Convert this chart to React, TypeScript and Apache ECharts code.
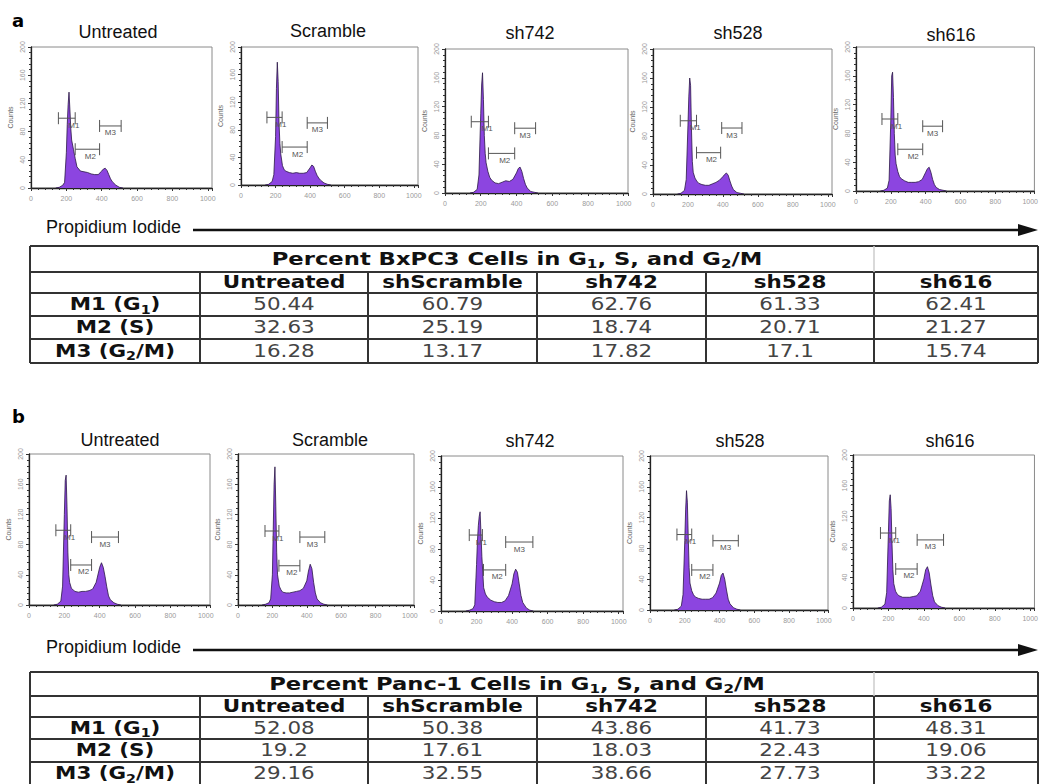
import React, { useEffect, useRef } from 'react';
import * as echarts from 'echarts';

// ---------- DATA ----------
const panelNames = ['Untreated', 'Scramble', 'sh742', 'sh528', 'sh616'];
const channelBins = [140, 160, 180, 190, 200, 205, 210, 215, 220, 225, 230, 240, 250, 260, 280, 300, 320, 340, 360, 380, 400, 410, 420, 430, 440, 450, 460, 480, 500, 520];

// BxPC3 (panel a) histogram counts
const bxUntreated = [0, 1, 4, 8, 50, 90, 118, 136, 112, 85, 68, 55, 42, 30, 24, 23, 22, 20, 19, 19, 24, 27, 28, 25, 19, 13, 9, 4, 1, 0];
const bxScramble = [0, 1, 5, 15, 70, 140, 178, 150, 90, 60, 45, 28, 22, 20, 18, 17, 18, 17, 17, 18, 25, 29, 27, 20, 14, 10, 7, 3, 1, 0];
const bxSh742 = [0, 1, 5, 25, 110, 150, 167, 130, 80, 55, 42, 30, 22, 18, 14, 13, 15, 17, 16, 19, 28, 34, 36, 30, 20, 12, 7, 2, 1, 0];
const bxSh528 = [0, 1, 5, 20, 95, 135, 160, 150, 90, 45, 30, 22, 18, 15, 13, 12, 12, 14, 16, 19, 24, 27, 29, 26, 18, 11, 6, 2, 1, 0];
const bxSh616 = [0, 1, 4, 15, 100, 160, 165, 130, 80, 50, 38, 27, 20, 17, 14, 12, 12, 12, 13, 16, 26, 31, 33, 26, 16, 9, 5, 2, 1, 0];

// Panc-1 (panel b) histogram counts
const paUntreated = [0, 1, 5, 25, 120, 165, 172, 130, 70, 40, 30, 22, 20, 18, 17, 18, 18, 19, 21, 30, 50, 56, 50, 38, 24, 12, 7, 3, 1, 0];
const paScramble = [0, 1, 3, 8, 40, 100, 160, 183, 130, 70, 40, 25, 20, 17, 16, 16, 17, 18, 19, 22, 32, 45, 54, 48, 30, 16, 8, 3, 1, 0];
const paSh742 = [0, 1, 3, 8, 60, 90, 110, 122, 128, 100, 70, 30, 22, 18, 14, 12, 11, 11, 13, 20, 35, 48, 54, 50, 35, 20, 11, 4, 1, 0];
const paSh528 = [0, 1, 5, 20, 90, 130, 155, 140, 95, 55, 35, 25, 20, 17, 15, 14, 14, 14, 16, 22, 35, 45, 48, 40, 26, 14, 8, 3, 1, 0];
const paSh616 = [0, 1, 5, 20, 100, 140, 148, 130, 85, 50, 32, 22, 18, 16, 14, 14, 14, 15, 16, 22, 38, 50, 54, 46, 30, 16, 8, 3, 1, 0];

// Marker gates [start, end, level] for M1, M2, M3
const markerNames = ['M1', 'M2', 'M3'];
const bxUntreatedGates = [[155, 250, 99], [250, 388, 55], [388, 510, 88]];
const bxScrambleGates = [[150, 238, 98], [238, 383, 55], [383, 500, 90]];
const bxSh742Gates = [[147, 243, 99], [243, 390, 55], [390, 507, 90]];
const bxSh528Gates = [[156, 249, 101], [249, 387, 57], [393, 509, 91]];
const bxSh616Gates = [[149, 240, 100], [240, 383, 58], [383, 497, 90]];
const paUntreatedGates = [[152, 236, 99], [236, 354, 53], [354, 506, 90]];
const paScrambleGates = [[157, 238, 98], [238, 360, 52], [360, 505, 90]];
const paSh742Gates = [[159, 233, 98], [239, 364, 53], [364, 517, 89]];
const paSh528Gates = [[155, 240, 98], [240, 362, 52], [362, 508, 90]];
const paSh616Gates = [[155, 241, 98], [241, 362, 51], [362, 511, 89]];

const xTicks = [0, 200, 400, 600, 800, 1000];
const yTicks = [0, 40, 80, 120, 160, 200];

// Tables
const tableColumns = ['Untreated', 'shScramble', 'sh742', 'sh528', 'sh616'];
const phaseLabels = ['M1 (G1)', 'M2 (S)', 'M3 (G2/M)'];
const bxpc3Title = 'Percent BxPC3 Cells in G1, S, and G2/M';
const bxpc3G1 = [50.44, 60.79, 62.76, 61.33, 62.41];
const bxpc3S = [32.63, 25.19, 18.74, 20.71, 21.27];
const bxpc3G2M = [16.28, 13.17, 17.82, 17.1, 15.74];
const panc1Title = 'Percent Panc-1 Cells in G1, S, and G2/M';
const panc1G1 = [52.08, 50.38, 43.86, 41.73, 48.31];
const panc1S = [19.2, 17.61, 18.03, 22.43, 19.06];
const panc1G2M = [29.16, 32.55, 38.66, 27.73, 33.22];

// ---------- LAYOUT ----------
const histograms = [bxUntreated, bxScramble, bxSh742, bxSh528, bxSh616, paUntreated, paScramble, paSh742, paSh528, paSh616];
const gates = [bxUntreatedGates, bxScrambleGates, bxSh742Gates, bxSh528Gates, bxSh616Gates, paUntreatedGates, paScrambleGates, paSh742Gates, paSh528Gates, paSh616Gates];
// [left, top, right, bottom]
const panelBoxes = [
  [31, 47, 212, 188], [241, 47, 418, 185], [445, 49, 628, 193], [653, 49, 832, 194], [856, 47, 1037, 191],
  [29, 454, 210, 605], [238, 454, 414, 605], [441, 456, 623, 611], [650, 456, 828, 610], [853, 455, 1036, 608],
];
const titleCenters = [
  [118, 32], [328, 31], [530, 33], [738, 33], [951, 35],
  [120, 440], [330, 440], [530, 441], [740, 441], [950, 441],
];
const colEdges = [30, 200, 368, 537, 706, 874, 1038];
const tableARows = [246, 272, 293, 316, 339, 363];
const tableBRows = [672, 696, 717, 739, 762, 785];

const FONT_T = 'DejaVu Sans';
const FONT_L = 'Liberation Sans';

function toRich(str: string, base: string) {
  return '{' + base + '|' + str.replace(/G(\d)/g, 'G}{s|$1}{' + base + '|') + '}';
}

function richStyles(color: string, weight: string) {
  return {
    b: { fontFamily: FONT_T, fontWeight: weight, fontSize: 18, lineHeight: 18, verticalAlign: 'top', fill: color },
    s: { fontFamily: FONT_T, fontWeight: weight, fontSize: 12, lineHeight: 12, padding: [8, 0, 0, 0], verticalAlign: 'top', fill: color },
  };
}

function cellText(x: number, y: number, str: string, bold: boolean, color: string, sx = 1.19) {
  return {
    type: 'text', x, y, scaleX: sx, silent: true,
    style: {
      text: toRich(str, 'b'), rich: richStyles(color, bold ? 'bold' : 'normal'),
      textAlign: 'center', textVerticalAlign: 'middle',
    },
  };
}

function buildTable(rows: number[], title: string, values: number[][]) {
  const els: any[] = [];
  const dark = '#333';
  const x0 = colEdges[0];
  const x1 = colEdges[colEdges.length - 1];
  rows.forEach((y) => {
    els.push({ type: 'line', silent: true, shape: { x1: x0, y1: y, x2: x1, y2: y }, style: { stroke: dark, lineWidth: 2 } });
  });
  const yTop = rows[0];
  const yHead = rows[1];
  const yEnd = rows[rows.length - 1];
  els.push({ type: 'line', silent: true, shape: { x1: x0, y1: yTop, x2: x0, y2: yEnd }, style: { stroke: dark, lineWidth: 2 } });
  els.push({ type: 'line', silent: true, shape: { x1: x1, y1: yTop, x2: x1, y2: yEnd }, style: { stroke: dark, lineWidth: 2 } });
  els.push({ type: 'line', silent: true, shape: { x1: colEdges[5], y1: yTop, x2: colEdges[5], y2: yHead }, style: { stroke: '#ccc', lineWidth: 1.5 } });
  for (let c = 1; c < colEdges.length - 1; c++) {
    els.push({ type: 'line', silent: true, shape: { x1: colEdges[c], y1: yHead, x2: colEdges[c], y2: yEnd }, style: { stroke: dark, lineWidth: 2 } });
  }
  const mid = (r: number) => (rows[r] + rows[r + 1]) / 2;
  els.push(cellText(517, mid(0), title, true, '#111', 1.26));
  tableColumns.forEach((name, c) => {
    els.push(cellText((colEdges[c + 1] + colEdges[c + 2]) / 2, mid(1), name, true, '#111'));
  });
  phaseLabels.forEach((lab, r) => {
    els.push(cellText((colEdges[0] + colEdges[1]) / 2, mid(r + 2), lab, true, '#111'));
    values[r].forEach((v, c) => {
      els.push(cellText((colEdges[c + 1] + colEdges[c + 2]) / 2, mid(r + 2), String(v), false, '#444'));
    });
  });
  return els;
}

function arrowEls(y: number, textY: number) {
  return [
    { type: 'text', x: 46, y: textY, silent: true, style: { text: 'Propidium Iodide', fontFamily: FONT_L, fontSize: 18, fill: '#111', textAlign: 'left', textVerticalAlign: 'middle' } },
    { type: 'line', silent: true, shape: { x1: 193, y1: y, x2: 1022, y2: y }, style: { stroke: '#111', lineWidth: 2.5 } },
    { type: 'polygon', silent: true, shape: { points: [[1018, y - 6], [1038, y], [1018, y + 6]] }, style: { fill: '#111' } },
  ];
}

function renderGate(params: any, api: any) {
  const lvl = api.value(2);
  const p1 = api.coord([api.value(0), lvl]);
  const p2 = api.coord([api.value(1), lvl]);
  const idx = params.dataIndex;
  const frac = [0.92, 0.62, 0.5][idx] ?? 0.5;
  const st = { stroke: '#555', lineWidth: 1 };
  return {
    type: 'group',
    children: [
      { type: 'line', shape: { x1: p1[0], y1: p1[1], x2: p2[0], y2: p2[1] }, style: st },
      { type: 'line', shape: { x1: p1[0], y1: p1[1] - 6, x2: p1[0], y2: p1[1] + 6 }, style: st },
      { type: 'line', shape: { x1: p2[0], y1: p2[1] - 6, x2: p2[0], y2: p2[1] + 6 }, style: st },
      {
        type: 'text', x: p1[0] + (p2[0] - p1[0]) * frac, y: p1[1] + 3,
        style: { text: markerNames[idx], fontFamily: FONT_L, fontSize: 8, fill: '#555', textAlign: 'center', textVerticalAlign: 'top' },
      },
    ],
  };
}

function buildOption() {
  const grid = panelBoxes.map(([l, t, r, b]) => ({
    left: l, top: t, width: r - l, height: b - t, show: true, borderColor: '#8a8a8a', borderWidth: 1,
  }));
  const xAxis = panelBoxes.map((_, i) => ({
    type: 'value', gridIndex: i, min: xTicks[0], max: 1024, interval: xTicks[1] - xTicks[0],
    axisLine: { show: true, onZero: false, lineStyle: { color: '#222', width: 1.3 } },
    axisTick: { show: true, length: 3, lineStyle: { color: '#333' } },
    minorTick: { show: true, splitNumber: 5, length: 2, lineStyle: { color: '#333' } },
    splitLine: { show: false },
    axisLabel: {
      fontSize: 7, color: '#9a9a9a', margin: 7, fontFamily: FONT_L,
      formatter: (v: number) => (xTicks.indexOf(v) >= 0 ? String(v) : ''),
    },
  }));
  const yAxis = panelBoxes.map((_, i) => ({
    type: 'value', gridIndex: i, min: yTicks[0], max: yTicks[yTicks.length - 1], interval: yTicks[1] - yTicks[0],
    name: 'Counts', nameLocation: 'middle', nameRotate: 90, nameGap: 17,
    nameTextStyle: { fontSize: 7, color: '#666', fontFamily: FONT_L },
    axisLine: { show: true, lineStyle: { color: '#222', width: 1.3 } },
    axisTick: { show: true, length: 3, lineStyle: { color: '#333' } },
    minorTick: { show: true, splitNumber: 5, length: 2, lineStyle: { color: '#333' } },
    splitLine: { show: false },
    axisLabel: { fontSize: 7, color: '#9a9a9a', margin: 5, rotate: 90, fontFamily: FONT_L },
  }));
  const series: any[] = [];
  histograms.forEach((h, i) => {
    series.push({
      type: 'line', xAxisIndex: i, yAxisIndex: i, silent: true, z: 2,
      data: channelBins.map((x, k) => [x, h[k]]),
      showSymbol: false, symbol: 'none',
      lineStyle: { color: '#2b1845', width: 0.8 },
      areaStyle: { color: '#8c45e0', opacity: 1 },
    });
  });
  gates.forEach((g, i) => {
    series.push({
      type: 'custom', xAxisIndex: i, yAxisIndex: i, silent: true, z: 3,
      data: g, encode: { x: [0, 1], y: 2 }, renderItem: renderGate,
    });
  });

  const graphics: any[] = [];
  graphics.push({ type: 'text', x: 12, y: 20, silent: true, style: { text: 'a', fontFamily: FONT_T, fontWeight: 'bold', fontSize: 18, fill: '#000', textAlign: 'left', textVerticalAlign: 'middle' } });
  graphics.push({ type: 'text', x: 12, y: 416, silent: true, style: { text: 'b', fontFamily: FONT_T, fontWeight: 'bold', fontSize: 18, fill: '#000', textAlign: 'left', textVerticalAlign: 'middle' } });
  titleCenters.forEach(([cx, cy], i) => {
    graphics.push({
      type: 'text', x: cx, y: cy, silent: true,
      style: { text: panelNames[i % 5], fontFamily: FONT_L, fontSize: 18, fill: '#111', textAlign: 'center', textVerticalAlign: 'middle' },
    });
  });
  graphics.push(...arrowEls(230, 227));
  graphics.push(...arrowEls(650, 647));
  graphics.push(...buildTable(tableARows, bxpc3Title, [bxpc3G1, bxpc3S, bxpc3G2M]));
  graphics.push(...buildTable(tableBRows, panc1Title, [panc1G1, panc1S, panc1G2M]));

  return {
    animation: false,
    backgroundColor: '#fff',
    grid, xAxis, yAxis, series,
    graphic: { elements: graphics },
  };
}

export default function App() {
  const ref = useRef<HTMLDivElement>(null);
  useEffect(() => {
    const chart = echarts.init(ref.current as HTMLDivElement, null, { renderer: 'svg' });
    chart.setOption(buildOption() as any);
    return () => chart.dispose();
  }, []);
  return <div ref={ref} style={{ position: 'fixed', left: 0, top: 0, width: 1041, height: 784, background: '#fff' }} />;
}
